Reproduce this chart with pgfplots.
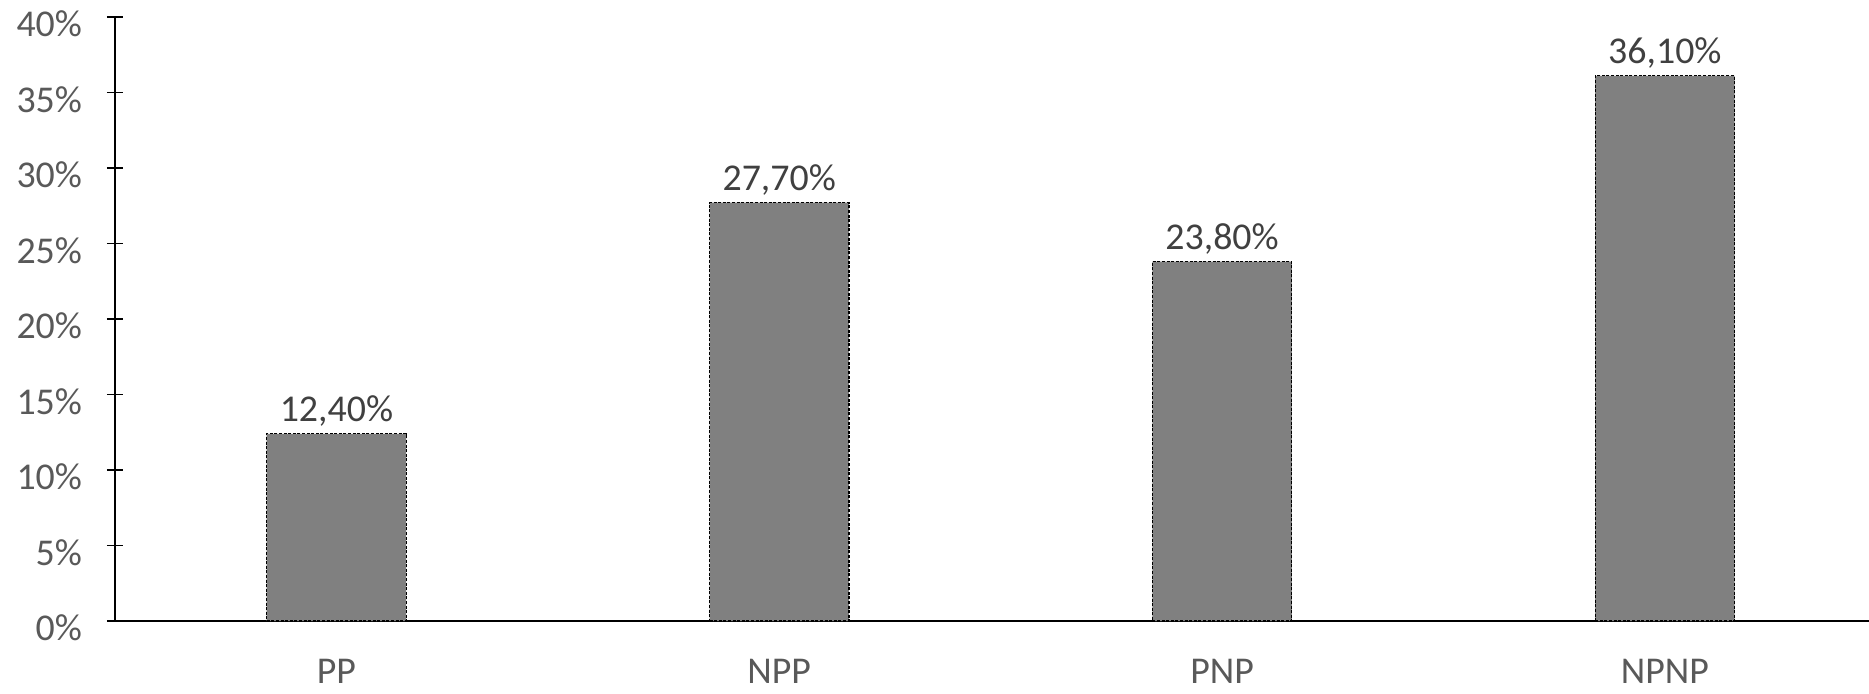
\documentclass[border=0pt]{standalone}
\usepackage{pgfplots}
\pgfplotsset{compat=1.18}
\usepackage{fontspec}
\setmainfont{Carlito}
\definecolor{barfill}{HTML}{808080}
\definecolor{ticktext}{HTML}{595959}
\definecolor{labeltext}{HTML}{404040}

\begin{document}
\begin{tikzpicture}
\begin{axis}[
    width=877bp, height=302bp,
    scale only axis,
    xmin=-0.5, xmax=3.461,
    ymin=0, ymax=40,
    axis x line*=bottom,
    axis y line*=left,
    axis line style={black, line width=0.9bp},
    ytick={0,5,...,40},
    xtick={0,1,2,3},
    xticklabels={PP,NPP,PNP,NPNP},
    major x tick style={draw=none},
    major y tick style={black, line width=0.9bp},
    tick align=center,
    major tick length=8bp,
    /pgf/number format/assume math mode=true,
    yticklabel={\pgfmathprintnumber{\tick}\%},
    yticklabel style={font=\fontsize{19}{22}\selectfont, text=ticktext, xshift=-9bp, yshift=-3.5bp},
    xticklabel style={font=\fontsize{19}{22}\selectfont, text=ticktext, inner sep=1bp, yshift=-10bp},
    ybar,
    bar width=69.7bp,
    nodes near coords={\pgfmathprintnumber[fixed,fixed zerofill,precision=2,use comma]{\pgfplotspointmeta}\%},
    nodes near coords style={font=\fontsize{19}{22}\selectfont, text=labeltext, anchor=south, yshift=0bp},
    clip=false,
]
\addplot[fill=barfill, draw=black, dash pattern=on 1.5bp off 0.8bp, line width=0.6bp] coordinates {
    (0,12.4)
    (1,27.7)
    (2,23.8)
    (3,36.1)
};
\end{axis}
\pgfresetboundingbox
\path[use as bounding box] (-57.5bp,-36.5bp) rectangle (877bp,310.5bp);
\end{tikzpicture}
\end{document}
